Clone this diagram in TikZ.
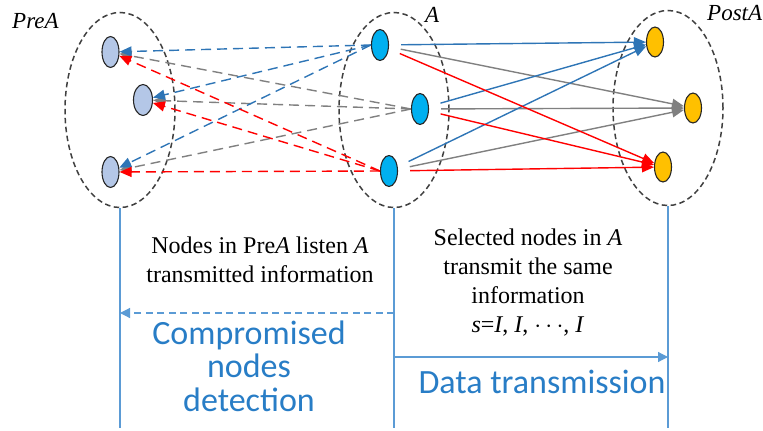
\documentclass[tikz,border=0pt]{standalone}
\usepackage{fontspec}
\setmainfont{Liberation Serif}
\newfontfamily\calib{Carlito}
\usetikzlibrary{arrows.meta,shapes.geometric}
\definecolor{lnblue}{RGB}{46,117,182}
\definecolor{lngrey}{RGB}{128,128,128}
\definecolor{lnred}{RGB}{255,0,0}
\definecolor{preblue}{RGB}{180,199,231}
\definecolor{acyan}{RGB}{0,176,240}
\definecolor{postorange}{RGB}{255,192,0}
\definecolor{axisblue}{RGB}{91,155,213}
\definecolor{txtblue}{RGB}{40,125,198}
\begin{document}
\begin{tikzpicture}[x=1pt,y=-1pt,
  grp/.style={ellipse, draw=black!75, dash pattern=on 5.5pt off 3.5pt, line width=1.5pt,
    minimum width=110pt, minimum height=195pt, inner sep=0pt},
  dot/.style={ellipse, draw=black!85, line width=1.1pt, minimum width=17pt, minimum height=31pt, inner sep=0pt},
  predot/.style={dot, fill=preblue},
  adot/.style={dot, fill=acyan},
  postdot/.style={dot, fill=postorange, minimum height=30pt},
  solidarr/.style={line width=1.4pt, -{Triangle[length=12pt,width=10pt]}, shorten <=12pt},
  dasharr/.style={line width=1.4pt, dash pattern=on 10pt off 6pt, -{Triangle[length=12pt,width=10pt]}},
  glabel/.style={font=\fontsize{23}{23}\selectfont\itshape, anchor=base west, inner sep=0pt},
  axis/.style={draw=axisblue, line width=1.2pt},
  serif/.style={font=\fontsize{24}{29}\selectfont, align=center, inner sep=0pt, anchor=base},
  bigblue/.style={font=\calib\fontsize{34}{33.5}\selectfont, text=txtblue, align=center, inner sep=0pt, anchor=base}
]
\useasboundingbox (0,0) rectangle (763,431);
% groups
\node[grp] (gpre) at (120,110) {};
\node[grp] (ga) at (394,110) {};
\node[grp] (gpost) at (668,108) {};
\node[glabel] (lpre) at (12,28) {PreA};
\node[glabel] (la) at (425,22) {A};
\node[glabel] (lpost) at (707,20) {PostA};
% nodes
\node[predot] (p1) at (110.5,52) {};
\node[predot, minimum width=19pt] (p2) at (143,100) {};
\node[predot] (p3) at (110.5,172) {};
\node[adot] (a1) at (380,45) {};
\node[adot] (a2) at (420,109) {};
\node[adot] (a3) at (389,171) {};
\node[postdot] (q1) at (655,42) {};
\node[postdot] (q2) at (693,108) {};
\node[postdot] (q3) at (663,167) {};
% dashed (listening) arrows
\draw[dasharr, lngrey] (a2.west) -- (p1);
\draw[dasharr, lngrey] (a2.west) -- (p2);
\draw[dasharr, lngrey] (a2.west) -- (p3);
\draw[dasharr, lnblue] (a1.west) -- (p1);
\draw[dasharr, lnblue] (a1.west) -- (p2);
\draw[dasharr, lnblue] (a1.west) -- (p3);
\draw[dasharr, lnred] (a3.west) -- (p1);
\draw[dasharr, lnred] (a3.west) -- (p2);
\draw[dasharr, lnred] (a3.west) -- (p3);
% solid (transmission) arrows
\draw[solidarr, lngrey] (a1) -- (q2);
\draw[solidarr, lngrey] (a2) -- (q2);
\draw[solidarr, lngrey] (a3) -- (q2);
\draw[solidarr, lnblue] (a1) -- (q1);
\draw[solidarr, lnblue] (a2) -- (q1);
\draw[solidarr, lnblue] (a3) -- (q1);
\draw[solidarr, lnred] (a1) -- (q3);
\draw[solidarr, lnred] (a2) -- (q3);
\draw[solidarr, lnred] (a3) -- (q3);
% phase axes
\coordinate (bpre) at (120,428);
\coordinate (ba) at (394,428);
\coordinate (bpost) at (668,428);
\draw[axis] (gpre.south) -- (bpre);
\draw[axis] (ga.south) -- (ba);
\draw[axis] (gpost.south) -- (bpost);
\coordinate (detR) at (394,313);
\coordinate (detL) at (120,313);
\coordinate (trL) at (394,357);
\coordinate (trR) at (668,357);
\draw[axis, dash pattern=on 7pt off 4.5pt, -{Triangle[length=10pt,width=10pt]}] (detR) -- (detL);
\draw[axis, -{Triangle[length=10pt,width=10pt]}] (trL) -- (trR);
% texts (anchor base = baseline of the last line)
\node[serif] (tl) at (260,282) {Nodes in Pre\textit{A} listen \textit{A}\\transmitted information};
\node[serif] (tr) at (528,332) {Selected nodes in \textit{A}\\transmit the same\\information\\\textit{s}=\textit{I}, \textit{I}, $\cdots$, \textit{I}};
\node[bigblue] (tdet) at (249,411) {Compromised\\nodes\\detection};
\node[bigblue] (ttr) at (542,393) {Data transmission};
\end{tikzpicture}
\end{document}
